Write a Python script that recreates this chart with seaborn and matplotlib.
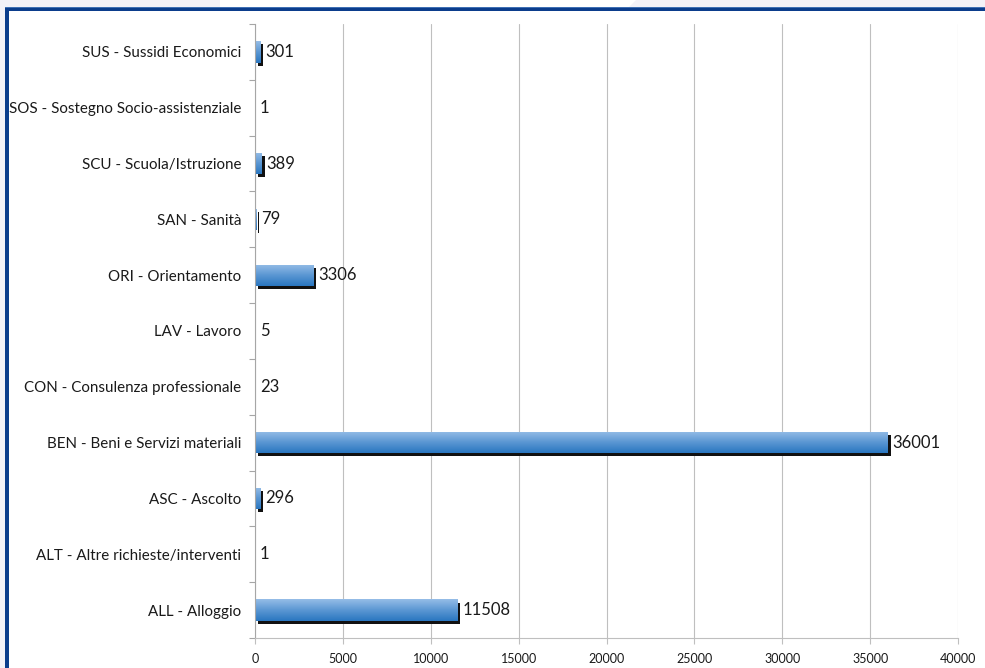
import numpy as np
import pandas as pd
import seaborn as sns
import matplotlib
matplotlib.use("Agg")
import matplotlib.pyplot as plt
import matplotlib.patheffects as pe
from matplotlib.colors import LinearSegmentedColormap
from matplotlib.patches import Rectangle, Polygon

# Richieste / interventi per tipologia
categories = [
    "SUS - Sussidi Economici",
    "SOS - Sostegno Socio-assistenziale",
    "SCU - Scuola/Istruzione",
    "SAN - Sanità",
    "ORI - Orientamento",
    "LAV - Lavoro",
    "CON - Consulenza professionale",
    "BEN - Beni e Servizi materiali",
    "ASC - Ascolto",
    "ALT - Altre richieste/interventi",
    "ALL - Alloggio",
]
values = [301, 1, 389, 79, 3306, 5, 23, 36001, 296, 1, 11508]
x_ticks = [0, 5000, 10000, 15000, 20000, 25000, 30000, 35000, 40000]

df = pd.DataFrame({"categoria": categories, "totale": values})

sns.set_theme(style="white")
fonts = ["Lato", "DejaVu Sans"]
plt.rcParams["font.family"] = fonts

W, H = 985, 668
fig = plt.figure(figsize=(W / 100, H / 100), dpi=100)
fig.patch.set_facecolor("#f3f2f8")

def px(x, y):
    return x / W, 1 - y / H

# white page with blue frame (top and left edges visible)
frame = [
    Rectangle(px(8, 700), (W + 20) / W, 691 / H, facecolor="white"),
    Polygon([px(220, 0), px(636, 0), px(628, 8), px(220, 8)], closed=True, facecolor="white"),
    Rectangle(px(5, 11), (W + 20) / W, 4 / H, facecolor="#0b3d8c"),
    Rectangle(px(5, 7.5), (W + 20) / W, 1 / H, facecolor="#3f70b4"),
    Rectangle(px(5, 700), 4 / W, 689 / H, facecolor="#0b3d8c"),
]
for p in frame:
    p.set_transform(fig.transFigure)
    p.set_edgecolor("none")
    p.set_zorder(-5)
    fig.patches.append(p)

left, right, top, bottom = 255, 958, 24, 638
ax = fig.add_axes([left / W, 1 - bottom / H, (right - left) / W, (bottom - top) / H])
ax.set_facecolor("none")
ax.set_zorder(5)

sns.barplot(data=df, x="totale", y="categoria", orient="h", color="#2b77c0",
            width=0.38, ax=ax, linewidth=0, zorder=2)

cmap = LinearSegmentedColormap.from_list("barra", ["#95bde7", "#5b97d3", "#2a76c0"])
grad = np.linspace(0, 1, 64).reshape(-1, 1)
for patch in ax.patches:
    patch.set_path_effects([pe.SimplePatchShadow(offset=(2.2, -2.2), shadow_rgbFace="#111111", alpha=1.0),
                            pe.Normal()])
    x0, y0, w, h = patch.get_x(), patch.get_y(), patch.get_width(), patch.get_height()
    im = ax.imshow(grad, cmap=cmap, aspect="auto", origin="upper",
                   extent=[x0, x0 + w, y0 + h, y0], zorder=2.5, interpolation="bilinear")
    im.set_clip_path(patch)

ax.bar_label(ax.containers[0], labels=[str(v) for v in values], padding=3.5,
             fontsize=12, color="#1a1a1a", family=fonts)

ax.set_xlim(0, 40000)
ax.set_ylim(len(categories) - 0.5, -0.5)
ax.set_xticks(x_ticks)
ax.set_xticklabels([str(t) for t in x_ticks], fontsize=9, color="#1a1a1a")
ax.set_yticks(range(len(categories)))
ax.set_yticklabels(categories, fontsize=10.9, color="#1a1a1a")
ax.set_yticks(np.arange(-0.5, len(categories), 1.0), minor=True)
ax.set_xlabel("")
ax.set_ylabel("")

ax.grid(axis="x", color="#bfbfbf", linewidth=0.8)
ax.grid(axis="y", visible=False)
ax.set_axisbelow(True)

ax.tick_params(axis="y", which="major", length=0, pad=10)
ax.tick_params(axis="y", which="minor", length=4.5, width=0.8, color="#a6a6a6", direction="out", left=True)
ax.tick_params(axis="x", which="major", length=4, width=0.8, color="#bfbfbf", direction="out", pad=7, bottom=True)

for side in ("top", "right"):
    ax.spines[side].set_visible(False)
ax.spines["left"].set_color("#a6a6a6")
ax.spines["left"].set_linewidth(0.8)
ax.spines["bottom"].set_color("#bfbfbf")
ax.spines["bottom"].set_linewidth(0.8)

fig.savefig("out.png", dpi=100, facecolor=fig.get_facecolor())
